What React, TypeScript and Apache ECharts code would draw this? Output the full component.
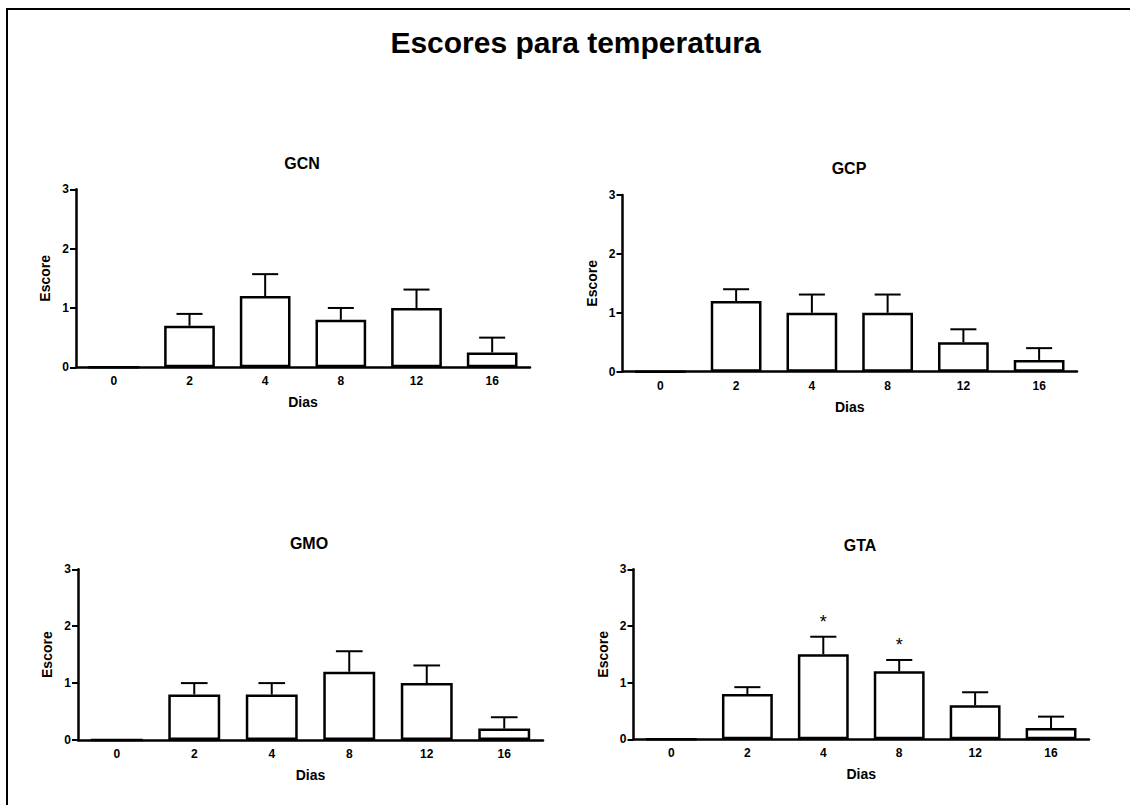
import React, { useEffect, useRef } from 'react';
import * as echarts from 'echarts';

const days = ['0', '2', '4', '8', '12', '16'];
const yTicks = [0, 1, 2, 3];

const gcnMean = [0, 0.7, 1.2, 0.8, 1.0, 0.25];
const gcnUpper = [0, 0.9, 1.57, 1.0, 1.31, 0.5];
const gcpMean = [0, 1.2, 1.0, 1.0, 0.5, 0.2];
const gcpUpper = [0, 1.4, 1.31, 1.31, 0.72, 0.4];
const gmoMean = [0, 0.8, 0.8, 1.2, 1.0, 0.2];
const gmoUpper = [0, 1.0, 1.0, 1.56, 1.31, 0.4];
const gtaMean = [0, 0.8, 1.5, 1.2, 0.6, 0.2];
const gtaUpper = [0, 0.92, 1.81, 1.4, 0.83, 0.4];
const noMarks = ['', '', '', '', '', ''];
const gtaMarks = ['', '', '*', '*', '', ''];

const mainTitle = 'Escores para temperatura';
const xName = 'Dias';
const yName = 'Escore';

const FONT = '"Liberation Sans", Arial, Helvetica, sans-serif';

const panels = [
  { name: 'GCN', mean: gcnMean, upper: gcnUpper, marks: noMarks, grid: { left: 76, top: 189.3, width: 454, height: 178 }, titleX: 302, titleTop: 155 },
  { name: 'GCP', mean: gcpMean, upper: gcpUpper, marks: noMarks, grid: { left: 622.5, top: 195, width: 454.5, height: 176.7 }, titleX: 849, titleTop: 160 },
  { name: 'GMO', mean: gmoMean, upper: gmoUpper, marks: noMarks, grid: { left: 78, top: 569.3, width: 465, height: 170.7 }, titleX: 309, titleTop: 535 },
  { name: 'GTA', mean: gtaMean, upper: gtaUpper, marks: gtaMarks, grid: { left: 633.5, top: 569.3, width: 455.5, height: 170 }, titleX: 860, titleTop: 537 },
];

export default function App() {
  const ref = useRef<HTMLDivElement>(null);

  useEffect(() => {
    if (!ref.current) return;
    const chart = echarts.init(ref.current, undefined, { renderer: 'svg' });

    const titles: any[] = [
      {
        text: mainTitle,
        left: 575.5,
        top: 27,
        textAlign: 'center',
        padding: 0,
        textStyle: { fontFamily: FONT, fontSize: 30, fontWeight: 'bold', color: '#000' },
      },
    ];
    const grids: any[] = [];
    const xAxes: any[] = [];
    const yAxes: any[] = [];
    const series: any[] = [];

    panels.forEach((p, i) => {
      titles.push({
        text: p.name,
        left: p.titleX,
        top: p.titleTop,
        textAlign: 'center',
        padding: 0,
        textStyle: { fontFamily: FONT, fontSize: 16, fontWeight: 'bold', color: '#000' },
      });
      grids.push({ ...p.grid, containLabel: false });
      xAxes.push({
        type: 'category',
        gridIndex: i,
        data: days,
        boundaryGap: true,
        name: xName,
        nameLocation: 'middle',
        nameGap: 28,
        nameTextStyle: { fontFamily: FONT, fontSize: 14, fontWeight: 'bold', color: '#000' },
        axisLine: { show: true, lineStyle: { color: '#000', width: 2.5 } },
        axisTick: { show: false },
        axisLabel: { fontFamily: FONT, fontSize: 12, fontWeight: 'bold', color: '#000', margin: 8 },
        splitLine: { show: false },
      });
      yAxes.push({
        type: 'value',
        gridIndex: i,
        min: yTicks[0],
        max: yTicks[yTicks.length - 1],
        interval: 1,
        name: yName,
        nameLocation: 'middle',
        nameGap: 24,
        nameTextStyle: { fontFamily: FONT, fontSize: 14, fontWeight: 'bold', color: '#000' },
        axisLine: { show: true, lineStyle: { color: '#000', width: 2.5 } },
        axisTick: { show: true, inside: false, length: 6, lineStyle: { color: '#000', width: 2 } },
        axisLabel: { fontFamily: FONT, fontSize: 12, fontWeight: 'bold', color: '#000', margin: 7 },
        splitLine: { show: false },
      });
      series.push({
        type: 'bar',
        xAxisIndex: i,
        yAxisIndex: i,
        data: p.mean,
        barWidth: '67%',
        itemStyle: { color: '#fff', borderColor: '#000', borderWidth: 2.5 },
        z: 2,
      });
      const marks = p.marks;
      series.push({
        type: 'custom',
        xAxisIndex: i,
        yAxisIndex: i,
        data: p.mean.map((m, k) => [k, m, p.upper[k]]),
        encode: { x: 0, y: 1 },
        z: 3,
        renderItem: (params: any, api: any) => {
          const idx = api.value(0);
          const mean = api.value(1);
          const upper = api.value(2);
          const children: any[] = [];
          if (upper > mean) {
            const base = api.coord([idx, mean]);
            const top = api.coord([idx, upper]);
            const band = api.size([1, 0])[0];
            const half = band * 0.172;
            children.push({
              type: 'line',
              shape: { x1: base[0], y1: base[1], x2: top[0], y2: top[1] },
              style: { stroke: '#000', lineWidth: 2 },
            });
            children.push({
              type: 'line',
              shape: { x1: top[0] - half, y1: top[1], x2: top[0] + half, y2: top[1] },
              style: { stroke: '#000', lineWidth: 2 },
            });
            const mk = marks[params.dataIndex];
            if (mk) {
              children.push({
                type: 'text',
                x: top[0],
                y: top[1] - 15,
                style: {
                  text: mk,
                  fontFamily: FONT,
                  fontSize: 18,
                  fill: '#000',
                  align: 'center',
                  verticalAlign: 'middle',
                },
              });
            }
          }
          return { type: 'group', children };
        },
      });
    });

    chart.setOption({
      animation: false,
      backgroundColor: '#fff',
      title: titles,
      grid: grids,
      xAxis: xAxes,
      yAxis: yAxes,
      series,
      graphic: [
        {
          type: 'polyline',
          shape: { points: [[7, 805], [7, 9], [1130, 9]] },
          style: { stroke: '#000', lineWidth: 2, fill: null },
          silent: true,
        },
      ],
    });

    return () => {
      chart.dispose();
    };
  }, []);

  return (
    <div
      ref={ref}
      style={{ position: 'absolute', left: 0, top: 0, width: 1130, height: 805, background: '#fff' }}
    />
  );
}
